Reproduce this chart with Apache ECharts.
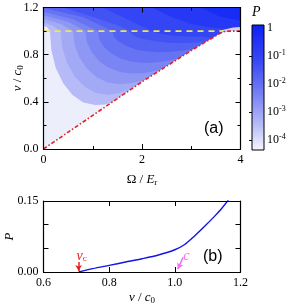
<!DOCTYPE html>
<html><head><meta charset="utf-8">
<script src="https://cdn.jsdelivr.net/npm/echarts@6/dist/echarts.min.js"></script>
<style>html,body{margin:0;padding:0;background:#fff}#c{width:288px;height:305px}</style>
</head><body><div id="c"></div>
<script>
// ---------- data ----------
// panel (a): red dash-dot boundary  v/c0 vs Omega/Er
const redOmega = [0, 1, 2, 3, 3.58, 3.66, 3.75, 4];
const redV     = [0, 0.285, 0.57, 0.835, 0.98, 0.995, 1.0, 1.0];
// yellow dashed line v = c0
const yellowOmega = [0, 3.66];
const yellowV     = [1.0, 1.0];
// contour boundaries of P (light -> dark), points [Omega, v]
const contour1 = [[0,1.2],[0,1.045],[0.08,1.03],[0.13,1.0],[0.16,0.84],[0.25,0.687],[0.40,0.557],[0.59,0.457],[0.81,0.394],[1.05,0.373],[1.25,0.378],[1.42,0.4],[1.6,0.44]];
const contour2 = [[0,1.2],[0,1.075],[0.2,1.04],[0.35,1.0],[0.38,0.86],[0.48,0.73],[0.63,0.618],[0.825,0.532],[1.05,0.478],[1.3,0.46],[1.5,0.47],[1.7,0.5],[1.9,0.53]];
const contour3 = [[0,1.2],[0,1.105],[0.35,1.06],[0.6,1.0],[0.63,0.884],[0.73,0.775],[0.88,0.682],[1.075,0.61],[1.3,0.565],[1.55,0.55],[1.8,0.56],[2.05,0.585],[2.3,0.63]];
const contour4 = [[0,1.2],[0,1.135],[0.5,1.08],[0.85,1.0],[0.88,0.907],[0.98,0.82],[1.13,0.745],[1.325,0.688],[1.55,0.652],[1.8,0.64],[2.05,0.645],[2.3,0.665],[2.55,0.7]];
const contour5 = [[0,1.2],[0,1.165],[0.6,1.1],[1.1,1.0],[1.13,0.93],[1.23,0.865],[1.38,0.809],[1.575,0.766],[1.8,0.739],[2.05,0.73],[2.3,0.735],[2.55,0.75],[2.8,0.775]];
const contour6 = [[0,1.2],[0,1.195],[0.8,1.12],[1.4,1.0],[1.43,0.953],[1.53,0.91],[1.68,0.873],[1.875,0.844],[2.1,0.826],[2.35,0.82],[2.6,0.825],[2.85,0.835],[3.1,0.852]];
const contour7 = [[0.4,1.2],[1.0,1.12],[1.5,1.05],[1.75,1.0],[1.8,0.97],[1.9,0.945],[2.05,0.93],[2.25,0.915],[2.45,0.905],[2.65,0.9],[2.9,0.9],[3.15,0.905],[3.35,0.915]];
const contour8 = [[1.2,1.2],[1.7,1.1],[2.2,1.0],[2.4,0.975],[2.6,0.962],[2.8,0.957],[3.0,0.955],[3.2,0.955],[3.45,0.94]];
const contour9 = [[2.2,1.2],[2.6,1.12],[3.0,1.06],[3.4,1.03],[3.7,1.02],[4,1.03]];
const contour10 = [[3.2,1.2],[3.6,1.12],[4,1.09]];
const glowPatch = [[3.55,1.0],[3.7,1.015],[3.85,1.03],[4,1.035],[4,1.0]];
const contours = [contour1,contour2,contour3,contour4,contour5,contour6,contour7,contour8,contour9,contour10];
const baseColor = '#eceefc';
const contourColors = ['#b6baf6','#a2a9f5','#8e97f4','#7a85f4','#6673f3','#5362f3','#4253f4','#3345f4','#2538f5','#182cf6'];
// colorbar: log10(P) ticks
const cbTicks = [0, -1, -2, -3, -4];
const cbMin = -4.36, cbMax = 0.11;
const cbStops = [[0,'#0c20f5'],[0.3,'#3a4af3'],[0.55,'#7680f3'],[0.8,'#b8bdf7'],[1,'#f6f6fe']];
// panel (b): P vs v/c0
const vB = [0.707, 0.75, 0.8, 0.85, 0.9, 0.95, 1.0, 1.03, 1.06, 1.09, 1.12, 1.14, 1.163];
const pB = [0, 0.007, 0.014, 0.021, 0.028, 0.036, 0.047, 0.058, 0.076, 0.096, 0.117, 0.132, 0.152];
const vcArrow = [[0.707,0.021],[0.707,0.002]];
const cArrow = [[1.025,0.031],[1.009,0.006]];

// ---------- chart ----------
const SERIF = 'Liberation Serif';
const chart = echarts.init(document.getElementById('c'), null, {renderer:'canvas'});
const black = {color:'#000', width:1.2};
const rich = {
  i:{fontFamily:SERIF, fontStyle:'italic', fontSize:13, color:'#000'},
  n:{fontFamily:SERIF, fontSize:13, color:'#000'},
  s:{fontFamily:SERIF, fontSize:9, color:'#000', verticalAlign:'bottom', padding:[6,0,0,0]}
};
function ax(o){
  return Object.assign({
    type:'value', z:5, nameMoveOverlap:false,
    axisLine:{show:true, onZero:false, lineStyle:black},
    axisTick:{show:true, inside:true, length:5, lineStyle:{color:'#000', width:1}},
    splitLine:{show:false},
    axisLabel:{fontFamily:SERIF, fontSize:12, color:'#000', margin:5}
  }, o);
}
function poly(pts, color, close){
  const all = close ? pts.concat([[4,0],[4,1.2]]) : pts;
  return {type:'custom', xAxisIndex:0, yAxisIndex:0, silent:true, z:1,
    data:[[all[0][0], all[0][1]]],
    renderItem:(p, api)=>({type:'polygon', shape:{points: all.map(q=>api.coord(q))}, style:{fill:color}})};
}
const redPts = redOmega.map((x,i)=>[x, redV[i]]);
const series = [];
series.push(poly([[0,0],[4,0],[4,1.2],[0,1.2]], baseColor, false));
contours.forEach((c,i)=>series.push(poly(c, contourColors[i], true)));
series.push(poly(glowPatch, '#cfd3f8', false));
series.push(poly(redPts.concat([[4,0]]), '#ffffff', false));
series.push({type:'line', xAxisIndex:0, yAxisIndex:0, z:3, silent:true, symbol:'none',
  data: yellowOmega.map((x,i)=>[x, yellowV[i]]), lineStyle:{color:'#f2e54a', width:1.7, type:[6,5]}});
series.push({type:'line', xAxisIndex:0, yAxisIndex:0, z:3, silent:true, symbol:'none',
  data: redPts, lineStyle:{color:'#e42226', width:1.6, type:[4,2,1.5,2]}});
// colorbar
series.push({type:'custom', xAxisIndex:2, yAxisIndex:2, silent:true, z:1, data:[[0,cbMax]],
  renderItem:(p, api)=>{
    const a = api.coord([0,cbMax]), b = api.coord([1,cbMin]);
    return {type:'rect', shape:{x:a[0], y:a[1], width:b[0]-a[0], height:b[1]-a[1]},
      style:{fill:new echarts.graphic.LinearGradient(0,0,0,1, cbStops.map(s=>({offset:s[0], color:s[1]}))), stroke:'#000', lineWidth:1}};
  }});
// panel b curve
series.push({type:'line', xAxisIndex:3, yAxisIndex:3, z:3, silent:true, symbol:'none', smooth:0.3, clip:true,
  data: vB.map((v,i)=>[v, pB[i]]), lineStyle:{color:'#1414e6', width:1.4},
  markLine:{silent:true, symbol:['none','arrow'], symbolSize:[5,6], label:{show:false},
    data:[[{coord:vcArrow[0], lineStyle:{color:'#e02020', width:1.5, type:'solid'}},{coord:vcArrow[1]}],
          [{coord:cArrow[0], lineStyle:{color:'#f070f0', width:1.5, type:'solid'}},{coord:cArrow[1]}]]},
  markPoint:{silent:true, symbol:'circle', symbolSize:0,
    data:[{coord:[0.716,0.034], label:{show:true, formatter:'{i|v}{s|c}', rich:{
            i:{fontFamily:SERIF, fontStyle:'italic', fontSize:14, color:'#e02020'},
            s:{fontFamily:SERIF, fontSize:9, color:'#e02020', verticalAlign:'bottom', padding:[6,0,0,0]}}}},
          {coord:[1.035,0.033], label:{show:true, formatter:'{i|c}', rich:{
            i:{fontFamily:SERIF, fontStyle:'italic', fontSize:14, color:'#f070f0'}}}}]}
});

const gridBase = {containLabel:false, outerBoundsMode:'none'};
chart.setOption({
  animation:false,
  backgroundColor:'#fff',
  grid:[
    Object.assign({left:43.5, right:47.5, top:7.5, height:141.5}, gridBase),
    Object.assign({left:252, width:12, top:25, height:125}, gridBase),
    Object.assign({left:43.5, right:47.5, top:201, height:71}, gridBase)
  ],
  xAxis:[
    ax({gridIndex:0, min:0, max:4, interval:2, position:'bottom', nameMoveOverlap:true,
        minorTick:{show:true, splitNumber:2, length:3, lineStyle:{color:'#000'}},
        name:'{n|Ω / }{i|E}{s|r}', nameLocation:'middle', nameGap:23, nameTextStyle:{rich}}),
    ax({gridIndex:0, min:0, max:4, interval:2, position:'top',
        minorTick:{show:true, splitNumber:2, length:3, lineStyle:{color:'#000'}}, axisLabel:{show:false}}),
    {gridIndex:1, type:'value', min:0, max:1, show:false},
    ax({gridIndex:2, min:0.6, max:1.2, interval:0.2, position:'bottom', nameMoveOverlap:true,
        axisLabel:{fontFamily:SERIF, fontSize:12, color:'#000', margin:5, formatter:v=>v.toFixed(1)},
        name:'{i|v}{n| / }{i|c}{s|0}', nameLocation:'middle', nameGap:18, nameTextStyle:{rich}}),
    ax({gridIndex:2, min:0.6, max:1.2, interval:0.2, position:'top', axisLabel:{show:false}})
  ],
  yAxis:[
    ax({gridIndex:0, min:0, max:1.2, interval:0.4, position:'left',
        minorTick:{show:true, splitNumber:2, length:3, lineStyle:{color:'#000'}},
        axisLabel:{fontFamily:SERIF, fontSize:12, color:'#000', margin:5, formatter:v=>v.toFixed(1)},
        name:'{i|v}{n| / }{i|c}{s|0}', nameLocation:'middle', nameGap:18, nameTextStyle:{rich}}),
    ax({gridIndex:0, min:0, max:1.2, interval:0.4, position:'right',
        minorTick:{show:true, splitNumber:2, length:3, lineStyle:{color:'#000'}}, axisLabel:{show:false}}),
    {gridIndex:1, type:'value', min:cbMin, max:cbMax, position:'right', z:5,
     axisLine:{show:false}, splitLine:{show:false},
     axisTick:{show:true, inside:true, length:3, customValues:cbTicks.slice(1), lineStyle:{color:'#000'}},
     axisLabel:{customValues:cbTicks, margin:3, color:'#000', fontFamily:SERIF, fontSize:12,
       formatter:v=> v===0 ? '1' : '{b|10}{s|'+v+'}',
       rich:{b:{fontFamily:SERIF, fontSize:12, color:'#000'},
             s:{fontFamily:SERIF, fontSize:8, color:'#000', verticalAlign:'top', padding:[0,0,6,0]}}},
     name:'{i|P}', nameLocation:'end', nameGap:6, nameTextStyle:{align:'left', padding:[0,0,0,0], rich:{i:{fontFamily:SERIF, fontStyle:'italic', fontSize:14, color:'#000'}}}},
    ax({gridIndex:2, min:0, max:0.15, interval:0.05, position:'left',
        axisLabel:{fontFamily:SERIF, fontSize:12, color:'#000', margin:5, customValues:[0,0.15], formatter:v=>v.toFixed(2)},
        name:'{i|P}', nameLocation:'middle', nameGap:27, nameTextStyle:{rich}}),
    ax({gridIndex:2, min:0, max:0.15, interval:0.05, position:'right', axisLabel:{show:false}})
  ],
  graphic:[
    {type:'text', left:204, top:121, z:10, style:{text:'(a)', font:'16px "Liberation Sans"', fill:'#000'}},
    {type:'text', left:203, top:249, z:10, style:{text:'(b)', font:'16px "Liberation Sans"', fill:'#000'}}
  ],
  series
});
</script></body></html>
